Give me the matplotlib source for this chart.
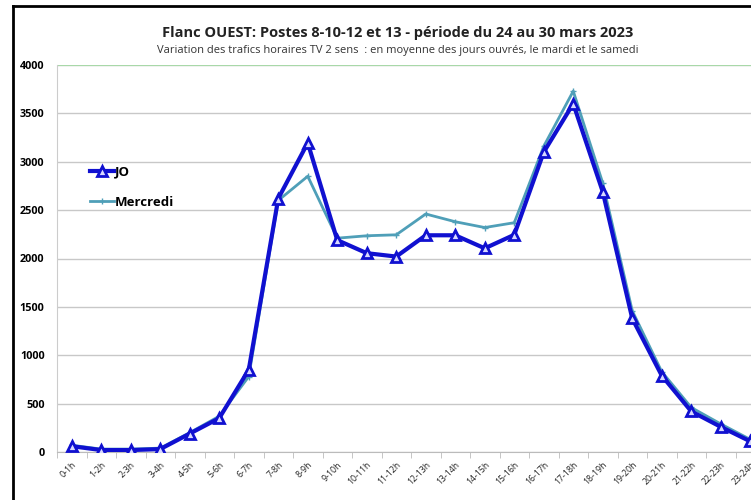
import matplotlib.pyplot as plt
from matplotlib.lines import Line2D

hours = ["0-1h", "1-2h", "2-3h", "3-4h", "4-5h", "5-6h", "6-7h", "7-8h",
         "8-9h", "9-10h", "10-11h", "11-12h", "12-13h", "13-14h", "14-15h",
         "15-16h", "16-17h", "17-18h", "18-19h", "19-20h", "20-21h",
         "21-22h", "22-23h", "23-24h"]
jo = [60, 20, 20, 30, 190, 350, 850, 2620, 3195, 2190, 2055, 2020,
      2240, 2240, 2105, 2245, 3100, 3600, 2690, 1380, 790, 420, 260, 110]
mercredi = [70, 30, 30, 40, 200, 370, 780, 2600, 2850, 2210, 2235, 2245,
            2460, 2380, 2320, 2370, 3160, 3730, 2780, 1460, 830, 460, 290, 130]

plt.rcParams["font.family"] = ["Open Sans", "DejaVu Sans"]

fig = plt.figure(figsize=(7.51, 5.0), dpi=100)
ax = fig.add_axes([57 / 751, 48 / 500, 708 / 751, 387 / 500])

x = range(len(hours))
ax.plot(x, mercredi, color="#4f9fb8", lw=2, marker="+", ms=5, mew=1,
        label="Mercredi", zorder=3)
ax.plot(x, jo, color="#1010d0", lw=3, marker="^", ms=7, mew=2,
        mfc="#d8d8ff", mec="#1010d0", label="JO", zorder=4)

ax.set_xlim(-0.5, len(hours) - 0.5)
ax.set_ylim(0, 4000)
ax.set_yticks(range(0, 4001, 500))
ax.set_yticklabels([str(v) for v in range(0, 4001, 500)],
                   fontsize=7.8, fontweight="bold")
ax.set_xticks(list(x))
ax.set_xticklabels(hours, rotation=45, ha="right", rotation_mode="anchor",
                   fontsize=6.3, color="#222222")
ax.set_xticks([i - 0.5 for i in range(len(hours) + 1)], minor=True)
ax.tick_params(axis="x", which="major", length=0, pad=6)
ax.tick_params(axis="x", which="minor", length=4, color="#bbbbbb")
ax.tick_params(axis="y", length=0, pad=9)

ax.grid(axis="y", color="#c8c8c8", lw=1)
ax.set_axisbelow(True)
for side in ["top", "right"]:
    ax.spines[side].set_visible(False)
ax.spines["left"].set_color("#cccccc")
ax.spines["bottom"].set_color("#bbbbbb")
ax.axhline(4000, color="#a8d8a8", lw=1.5, zorder=1)

handles, labels = ax.get_legend_handles_labels()
ax.legend(handles[::-1], labels[::-1], loc="upper left",
          bbox_to_anchor=(0.03, 0.77), frameon=False,
          handlelength=1.8, handletextpad=0.1, labelspacing=1.3,
          prop={"weight": "bold", "size": 9.5})

fig.text(398 / 751, 1 - 33 / 500,
         "Flanc OUEST: Postes 8-10-12 et 13 - période du 24 au 30 mars 2023",
         ha="center", va="center", fontsize=10.5, fontweight="bold",
         color="#222222")
fig.text(398 / 751, 1 - 51 / 500,
         "Variation des trafics horaires TV 2 sens  : en moyenne des jours "
         "ouvrés, le mardi et le samedi",
         ha="center", va="center", fontsize=8, color="#333333")

fig.add_artist(Line2D([12.5 / 751, 12.5 / 751], [0, 1 - 6 / 500],
                      color="black", lw=2))
fig.add_artist(Line2D([12.5 / 751, 1], [1 - 6 / 500, 1 - 6 / 500],
                      color="black", lw=2))

fig.savefig("out.png", dpi=100)
